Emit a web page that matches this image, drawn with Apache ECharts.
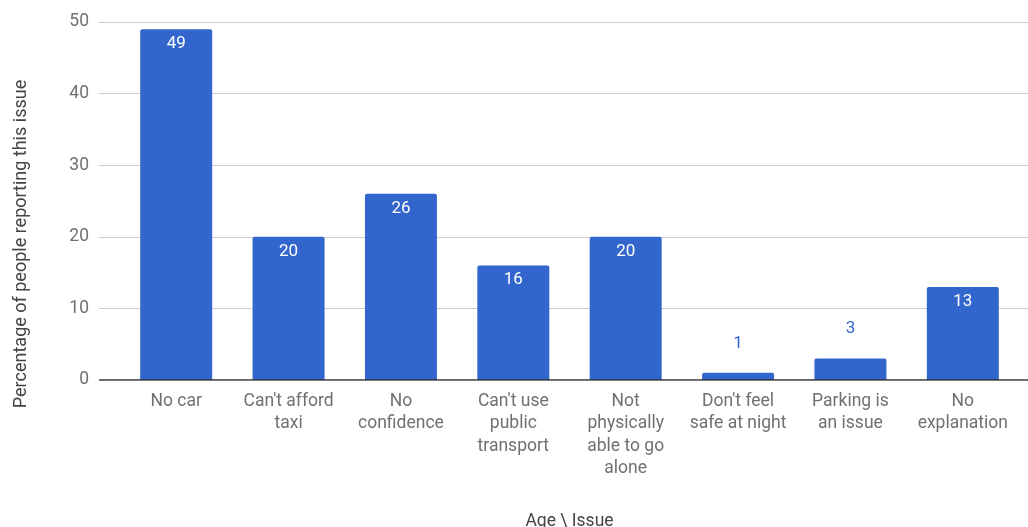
<!DOCTYPE html>
<html>
<head>
<meta charset="utf-8">
<script src="https://cdn.jsdelivr.net/npm/echarts@6/dist/echarts.min.js"></script>
<style>
html,body{margin:0;padding:0;background:#fff;}
#chart{width:1028px;height:527px;}
</style>
</head>
<body>
<div id="chart"></div>
<script>
const categories = ["No car", "Can't afford\ntaxi", "No\nconfidence", "Can't use\npublic\ntransport", "Not\nphysically\nable to go\nalone", "Don't feel\nsafe at night", "Parking is\nan issue", "No\nexplanation"];
const values = [49, 20, 26, 16, 20, 1, 3, 13];
const yTicks = [0, 10, 20, 30, 40, 50];
const yTitle = "Percentage of people reporting this issue";
const xTitle = "Age \\ Issue";

const FONT = "Roboto";
const BLUE = "#3366cc";
const TOP = 22, BOTTOM = 147;

const barData = values.map(v => {
  if (v < 5) {
    return {value: v, label: {position: 'top', distance: 21, color: BLUE}};
  }
  return {value: v};
});

const chart = echarts.init(document.getElementById('chart'), null, {renderer: 'canvas'});
chart.setOption({
  backgroundColor: '#fff',
  animation: false,
  textStyle: {fontFamily: FONT},
  grid: [
    {left: 99, right: 0, top: TOP, bottom: BOTTOM, containLabel: false, outerBoundsMode: 'none'},
    {left: 120, right: 9, top: TOP, bottom: BOTTOM, containLabel: false, outerBoundsMode: 'none'}
  ],
  graphic: [
    {type: 'text', x: 21, y: 244, rotation: Math.PI / 2,
     style: {text: yTitle, fill: '#444', font: '18px Roboto', textAlign: 'center', textVerticalAlign: 'middle'}}
  ],
  xAxis: [
    {gridIndex: 0, type: 'value', min: 0, max: 1, show: true,
     axisLine: {show: false}, axisTick: {show: false}, axisLabel: {show: false}, splitLine: {show: false}},
    {gridIndex: 1, type: 'category', data: categories,
     axisLine: {show: false}, axisTick: {show: false},
     axisLabel: {interval: 0, color: '#707070', fontSize: 17.5, lineHeight: 22.5, margin: 10, fontFamily: FONT},
     name: xTitle, nameLocation: 'middle', nameGap: 133,
     nameTextStyle: {color: '#444', fontSize: 17.5, fontFamily: FONT}}
  ],
  yAxis: [
    {gridIndex: 0, type: 'value', min: yTicks[0], max: yTicks[yTicks.length-1], interval: 10,
     axisLine: {show: false}, axisTick: {show: false},
     axisLabel: {color: '#707070', fontSize: 17.5, margin: 10, fontFamily: FONT},
     splitLine: {lineStyle: {color: '#cccccc', width: 1}}},
    {gridIndex: 1, type: 'value', min: yTicks[0], max: yTicks[yTicks.length-1], interval: 10, show: false,
     splitLine: {show: false}}
  ],
  series: [
    {type: 'line', xAxisIndex: 0, yAxisIndex: 0, data: [[0,0],[1,0]], symbol: 'none',
     lineStyle: {color: '#333333', width: 1.5}, silent: true, z: 5},
    {type: 'bar', xAxisIndex: 1, yAxisIndex: 1, data: barData, barWidth: 72,
     itemStyle: {color: BLUE, borderRadius: [2,2,0,0]},
     label: {show: true, position: 'insideTop', distance: 6, color: '#ffffff', fontSize: 17, fontFamily: FONT},
     z: 3}
  ]
});
</script>
</body>
</html>
